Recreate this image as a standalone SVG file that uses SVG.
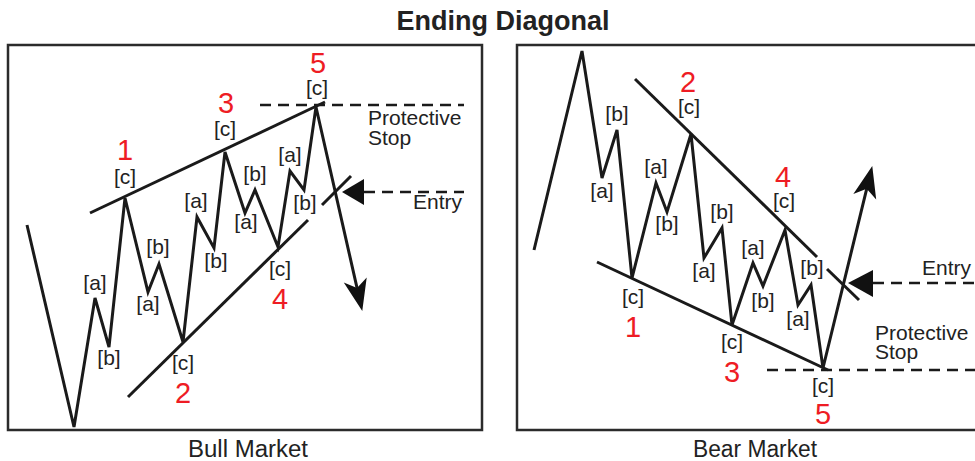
<svg xmlns="http://www.w3.org/2000/svg" width="975" height="461" viewBox="0 0 975 461">
<style>
.frame{fill:none;stroke:#2b2b2b;stroke-width:2.5}
.wave{fill:none;stroke:#1a1a1a;stroke-width:3;stroke-linejoin:miter}
.trend{fill:none;stroke:#1a1a1a;stroke-width:3}
.dash{fill:none;stroke:#1a1a1a;stroke-width:2.5;stroke-dasharray:11 7}
.lbl{font-family:"Liberation Sans",Arial,sans-serif;font-size:21px;fill:#222;text-anchor:middle}
.txt{font-family:"Liberation Sans",Arial,sans-serif;font-size:21px;fill:#222}
.num{font-family:"Liberation Sans",Arial,sans-serif;font-size:29px;fill:#ee1c24;text-anchor:middle}
.cap{font-family:"Liberation Sans",Arial,sans-serif;font-size:23px;fill:#222;text-anchor:middle}
.title{font-family:"Liberation Sans",Arial,sans-serif;font-size:27px;font-weight:bold;fill:#222;text-anchor:middle}
.head{fill:#111}
</style>
<defs>
<marker id="arr" markerUnits="userSpaceOnUse" markerWidth="40" markerHeight="30" refX="0" refY="0" viewBox="-25 -12 34 24" orient="auto" overflow="visible">
<path d="M6,0 L-21,-10 L-14,0 L-21,10 Z" fill="#111"/>
</marker>
</defs>

<text class="title" x="503" y="30" textLength="213" lengthAdjust="spacingAndGlyphs">Ending Diagonal</text>

<g id="bull-panel">
<rect class="frame" x="8" y="45" width="474" height="385"/>
<text class="cap" x="248" y="457" textLength="120" lengthAdjust="spacingAndGlyphs">Bull Market</text>
</g>
<g id="bear-panel">
<rect class="frame" x="517" y="45" width="472" height="385"/>
<text class="cap" x="755" y="457" textLength="124" lengthAdjust="spacingAndGlyphs">Bear Market</text>
</g>

<g id="connectors">
<polyline class="wave" points="27,225 74,427 95,298 109,347 125,198 148,292 159,264 183,342 197,217 214,248 225,152 245,213 255,190 278,247 290,171 304,190 316,107 360.7,304.1" marker-end="url(#arr)"/>
<line class="trend" x1="90" y1="213" x2="325" y2="102"/>
<line class="trend" x1="128" y1="397" x2="308" y2="220"/>
<line class="trend" x1="322" y1="205" x2="351" y2="176"/>
<line class="dash" x1="260" y1="105" x2="464" y2="105"/>
<line class="dash" x1="364" y1="192" x2="464" y2="192"/>
<polygon class="head" points="342,192 364,179 364,205"/>

<polyline class="wave" points="534,250 582,51 602,178 617,130 632,278 656,183 667,212 691,134 704,258 722,228 732,325 753,263 763,286 785,230 798,305 811,285 823,368 870.6,172.8" marker-end="url(#arr)"/>
<line class="trend" x1="635" y1="79" x2="817" y2="257"/>
<line class="trend" x1="827" y1="269" x2="859" y2="300"/>
<line class="trend" x1="597" y1="262" x2="828" y2="370"/>
<line class="dash" x1="767" y1="370" x2="975" y2="370"/>
<line class="dash" x1="873" y1="283" x2="975" y2="283"/>
<polygon class="head" points="848,283 873,270 873,297"/>
</g>

<g id="bull-labels">
<text class="num" x="125" y="160">1</text>
<text class="lbl" x="125" y="184">[c]</text>
<text class="num" x="226" y="113">3</text>
<text class="lbl" x="225" y="136">[c]</text>
<text class="num" x="318" y="73">5</text>
<text class="lbl" x="317" y="95">[c]</text>
<text class="lbl" x="95" y="290">[a]</text>
<text class="lbl" x="109" y="365">[b]</text>
<text class="lbl" x="158" y="254">[b]</text>
<text class="lbl" x="148" y="311">[a]</text>
<text class="lbl" x="183" y="370">[c]</text>
<text class="num" x="183" y="403">2</text>
<text class="lbl" x="196" y="208">[a]</text>
<text class="lbl" x="216" y="268">[b]</text>
<text class="lbl" x="255" y="181">[b]</text>
<text class="lbl" x="246" y="229">[a]</text>
<text class="lbl" x="280" y="276">[c]</text>
<text class="num" x="280" y="309">4</text>
<text class="lbl" x="290" y="162">[a]</text>
<text class="lbl" x="305" y="210">[b]</text>
<text class="txt" x="368" y="125">Protective</text>
<text class="txt" x="368" y="145">Stop</text>
<text class="txt" x="413" y="209">Entry</text>
</g>

<g id="bear-labels">
<text class="num" x="688" y="92">2</text>
<text class="lbl" x="689" y="114">[c]</text>
<text class="lbl" x="617" y="121">[b]</text>
<text class="lbl" x="602" y="198">[a]</text>
<text class="lbl" x="656" y="174">[a]</text>
<text class="lbl" x="667" y="231">[b]</text>
<text class="lbl" x="722" y="219">[b]</text>
<text class="lbl" x="704" y="278">[a]</text>
<text class="lbl" x="633" y="304">[c]</text>
<text class="num" x="633" y="337">1</text>
<text class="lbl" x="732" y="349">[c]</text>
<text class="num" x="732" y="382">3</text>
<text class="lbl" x="753" y="255">[a]</text>
<text class="lbl" x="763" y="308">[b]</text>
<text class="num" x="783" y="187">4</text>
<text class="lbl" x="784" y="208">[c]</text>
<text class="lbl" x="812" y="275">[b]</text>
<text class="lbl" x="798" y="326">[a]</text>
<text class="lbl" x="823" y="393">[c]</text>
<text class="num" x="823" y="424">5</text>
<text class="txt" x="875" y="340">Protective</text>
<text class="txt" x="875" y="359">Stop</text>
<text class="txt" x="922" y="275">Entry</text>
</g>
</svg>
